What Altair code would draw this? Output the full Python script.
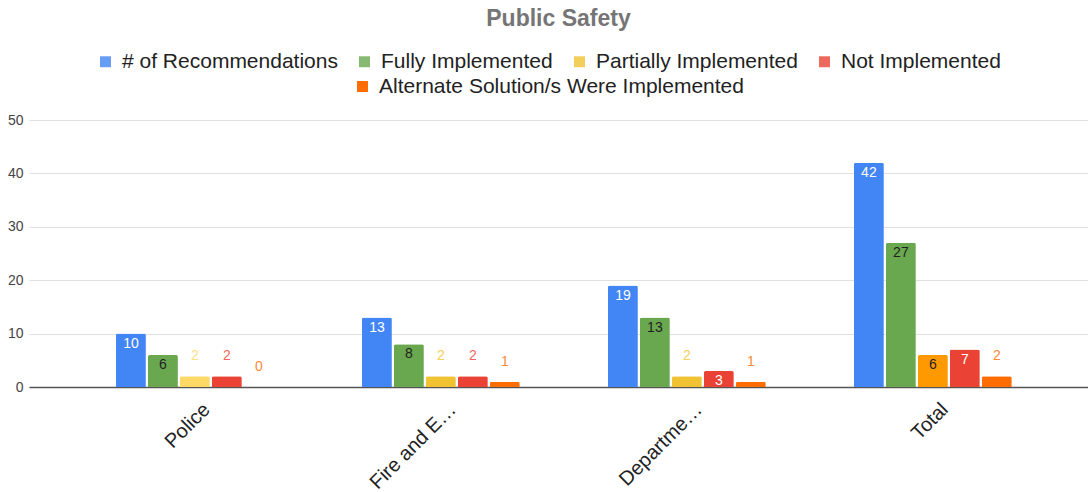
import altair as alt
import pandas as pd

categories = ["Police", "Fire and E…", "Departme…", "Total"]
series = [
    "# of Recommendations",
    "Fully Implemented",
    "Partially Implemented",
    "Not Implemented",
    "Alternate Solution/s Were Implemented",
]
recommendations = [10, 13, 19, 42]
fully_implemented = [6, 8, 13, 27]
partially_implemented = [2, 2, 2, 6]
not_implemented = [2, 2, 3, 7]
alternate_solutions = [0, 1, 1, 2]

values_by_series = [recommendations, fully_implemented, partially_implemented,
                    not_implemented, alternate_solutions]

series_colors = ["#4285F4", "#6AA84F", "#F1C232", "#EA4335", "#FF6D01"]
override_keys = {("Partially Implemented", "Police"): "#FFD966",
                 ("Partially Implemented", "Total"): "#FF9900"}

rows = []
for s, vals in zip(series, values_by_series):
    for c, v in zip(categories, vals):
        key = f"{s}|{c}" if (s, c) in override_keys else s
        rows.append({"category": c, "series": s, "value": v, "key": key})
df = pd.DataFrame(rows)

color_domain = series + [f"{s}|{c}" for (s, c) in override_keys]
color_range = series_colors + list(override_keys.values())

FONT = "Liberation Sans"

x_enc = alt.X("category:N", sort=categories, title=None,
              scale=alt.Scale(paddingInner=0.358, paddingOuter=0.3315, align=0.533),
              axis=alt.Axis(labelAngle=-45, labelFontSize=20, labelColor="#222222",
                            labelFont=FONT, labelPadding=12, labelOffset=5,
                            labelLimit=0, ticks=False, domainColor="#555555",
                            domainWidth=1.5, grid=False))
xoff_enc = alt.XOffset("series:N", sort=series,
                       scale=alt.Scale(paddingInner=0.0625, paddingOuter=0))
y_enc = alt.Y("value:Q", title=None,
              scale=alt.Scale(domain=[0, 50], nice=False),
              axis=alt.Axis(values=[0, 10, 20, 30, 40, 50], domain=False, ticks=False,
                            labelFontSize=14, labelColor="#444444", labelFont=FONT,
                            labelPadding=6, gridColor="#E0E0E0", gridWidth=1.2))

color_enc = alt.Color("key:N",
                      scale=alt.Scale(domain=color_domain, range=color_range),
                      legend=alt.Legend(values=series[:4], orient="none", legendX=66,
                                        legendY=-69, direction="horizontal", title=None,
                                        symbolType="square", symbolSize=120,
                                        symbolStrokeWidth=0, labelFontSize=21,
                                        labelFont=FONT, labelColor="#222222",
                                        labelLimit=0, labelOffset=6, columnPadding=16,
                                        padding=0))

base = alt.Chart(df)

bars = base.mark_bar(cornerRadiusTopLeft=2, cornerRadiusTopRight=2).encode(
    x=x_enc, xOffset=xoff_enc, y=y_enc, color=color_enc
)

inside = base.transform_filter("datum.value >= 3").mark_text(
    baseline="middle", dy=10, fontSize=14, font=FONT
).encode(
    x=x_enc, xOffset=xoff_enc, y=y_enc, text="value:Q",
    color=alt.condition(
        "datum.series == 'Fully Implemented' || datum.key == 'Partially Implemented|Total'",
        alt.value("#1F1F1F"), alt.value("#FFFFFF"))
)

above = base.transform_filter("datum.value < 3").mark_text(
    baseline="middle", dy=-20, fontSize=14, font=FONT, opacity=0.8
).encode(
    x=x_enc, xOffset=xoff_enc, y=y_enc, text="value:Q", color=color_enc
)

legend2 = base.transform_filter(alt.datum.series == series[4]).mark_square(opacity=0).encode(
    fill=alt.Fill("series:N",
                  scale=alt.Scale(domain=[series[4]], range=[series_colors[4]]),
                  legend=alt.Legend(orient="none", legendX=323, legendY=-44,
                                    direction="horizontal", title=None,
                                    symbolType="square", symbolSize=120,
                                    symbolOpacity=1, symbolStrokeWidth=0,
                                    labelFontSize=21, labelFont=FONT, labelLimit=0,
                                    labelColor="#222222", labelOffset=6, padding=0))
)

chart = alt.layer(bars, inside, above, legend2).properties(
    width=1059, height=267,
    title=alt.TitleParams("Public Safety", fontSize=23, font=FONT, fontWeight="bold",
                          color="#757575", anchor="middle", frame="group", offset=20),
    autosize=alt.AutoSizeParams(type="none"),
    padding={"left": 29, "top": 120, "right": 0, "bottom": 105},
).configure_view(stroke=None)

chart.save("out.html", embed_options={"renderer": "svg", "actions": False})
